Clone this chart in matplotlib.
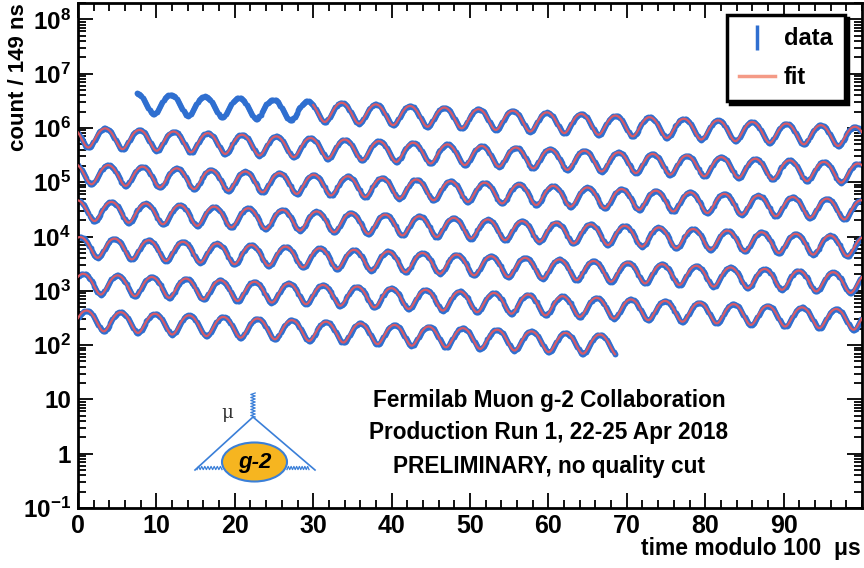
import numpy as np
import matplotlib
matplotlib.use('Agg')
import matplotlib.pyplot as plt
from matplotlib.lines import Line2D
from matplotlib.patches import Ellipse

plt.rcParams['font.family'] = ['Liberation Sans', 'DejaVu Sans']
plt.rcParams['font.weight'] = 'bold'
plt.rcParams['mathtext.fontset'] = 'custom'
plt.rcParams['mathtext.rm'] = 'Liberation Sans:bold'
plt.rcParams['mathtext.bf'] = 'Liberation Sans:bold'

# fit parameters (wiggle plot, time modulo 100 us)
bin_width = 0.149      # us
data_start = 7.5       # us
fit_start = 30.0       # us
data_end = 668.5       # us
N0 = 3.5e6
tau = 64.4             # us
asym = 0.40
period = 4.365         # us
phase = 1.84           # rad
row_offsets = [0, 100, 200, 300, 400, 500, 600]

ytick_vals = [1e-1, 1, 10, 1e2, 1e3, 1e4, 1e5, 1e6, 1e7, 1e8]
ytick_labels = [r'$\mathbf{10^{-1}}$', '1', '10', r'$\mathbf{10^{2}}$', r'$\mathbf{10^{3}}$',
                r'$\mathbf{10^{4}}$', r'$\mathbf{10^{5}}$', r'$\mathbf{10^{6}}$',
                r'$\mathbf{10^{7}}$', r'$\mathbf{10^{8}}$']
xtick_vals = [0, 10, 20, 30, 40, 50, 60, 70, 80, 90]

info_lines = ['Fermilab Muon g-2 Collaboration',
              'Production Run 1, 22-25 Apr 2018',
              'PRELIMINARY, no quality cut']

data_color = '#2f6fd0'
fit_color = '#e25a62'
fit_legend_color = '#f49a86'


def wiggle(t):
    return N0 * np.exp(-t / tau) * (1 + asym * np.cos(2 * np.pi * t / period + phase))


fig = plt.figure(figsize=(8.64, 5.68), dpi=100)
ax = fig.add_axes([78 / 864, 1 - 508 / 568, 784 / 864, 505 / 568])

t_bins = np.arange(data_start, data_end, bin_width)
counts = wiggle(t_bins)
t_fit = np.arange(fit_start, data_end, 0.03)
y_fit = wiggle(t_fit)

for off in row_offsets:
    m = (t_bins >= off) & (t_bins < off + 100)
    ax.errorbar(t_bins[m] - off, counts[m], yerr=np.sqrt(counts[m]), fmt='o', ms=4.2,
                color=data_color, mec='none', elinewidth=1.2, capsize=0, zorder=2)
    mf = (t_fit >= off) & (t_fit < off + 100)
    ax.plot(t_fit[mf] - off, y_fit[mf], color=fit_color, lw=1.6, alpha=0.95, zorder=3)

ax.set_yscale('log')
ax.set_xlim(0, 100)
ax.set_ylim(1e-1, 2e8)
ax.set_yticks(ytick_vals)
ax.set_yticklabels(ytick_labels, fontsize=17.5)
ax.set_xticks(xtick_vals)
ax.set_xticklabels([str(v) for v in xtick_vals], fontsize=18, fontweight='bold')
ax.xaxis.set_minor_locator(matplotlib.ticker.MultipleLocator(2))
ax.yaxis.set_minor_locator(matplotlib.ticker.LogLocator(base=10, subs=np.arange(2, 10), numticks=20))
ax.yaxis.set_minor_formatter(matplotlib.ticker.NullFormatter())
ax.tick_params(which='both', direction='in', top=True, right=True, width=1.3)
ax.tick_params(which='major', length=11)
ax.tick_params(which='minor', length=6)
ax.tick_params(axis='y', pad=5)
ax.tick_params(axis='x', pad=4)
for s in ax.spines.values():
    s.set_linewidth(2)

fig.text(8 / 864, 1 - 3 / 568, 'count / 149 ns', rotation=90, ha='left', va='top',
         fontsize=16, fontweight='bold')
fig.text(861 / 864, 1 - 548 / 568, 'time modulo 100  \u03bcs', ha='right', va='center',
         fontsize=16.5, fontweight='bold')

for i, line in enumerate(info_lines):
    fig.text(549 / 864, 1 - (400 + 33 * i) / 568, line, ha='center', va='center',
             fontsize=16.3, fontweight='bold')

handles = [Line2D([], [], color=data_color, marker='|', ms=18, mew=2.5, ls='none'),
           Line2D([], [], color=fit_legend_color, lw=2.5)]
leg = ax.legend(handles, ['data', 'fit'], loc='upper right', bbox_to_anchor=(0.978, 0.976),
                borderaxespad=0, prop={'weight': 'bold', 'size': 17},
                handlelength=1.5, handletextpad=0.4, labelspacing=0.7, borderpad=0.5,
                fancybox=False, framealpha=1, edgecolor='black',
                shadow={'color': 'black', 'alpha': 1, 'ox': 2, 'oy': -2})
leg.get_frame().set_linewidth(2.5)

# g-2 logo (drawn in pixel coordinates)
lg = fig.add_axes([185 / 864, 1 - 490 / 568, 140 / 864, 105 / 568])
lg.set_xlim(185, 325)
lg.set_ylim(490, 385)
lg.axis('off')
logo_blue = '#3a7fd8'
lg.plot([195, 253, 315], [470, 417, 470], color=logo_blue, lw=1.2)
zz = np.linspace(0, 1, 17)
lg.plot(253 + 2.2 * (-1) ** np.arange(17), 417 - 24 * zz, color=logo_blue, lw=0.9)
lg.plot(197 + 25 * zz, 468 + 1.6 * (-1) ** np.arange(17), color=logo_blue, lw=0.9)
lg.plot(287 + 22 * zz, 468 + 1.6 * (-1) ** np.arange(17), color=logo_blue, lw=0.9)
lg.add_patch(Ellipse((254.5, 462), 65, 39, facecolor='#f6b520', edgecolor=logo_blue, lw=1.5))
lg.text(254.5, 463, 'g-2', ha='center', va='center', fontsize=16, fontweight='bold',
        style='italic', color='black')
lg.text(227, 413, '\u03bc', ha='center', va='center', fontsize=13, color='#333333',
        fontweight='normal', family='DejaVu Serif')

fig.savefig('out.png', dpi=100)
